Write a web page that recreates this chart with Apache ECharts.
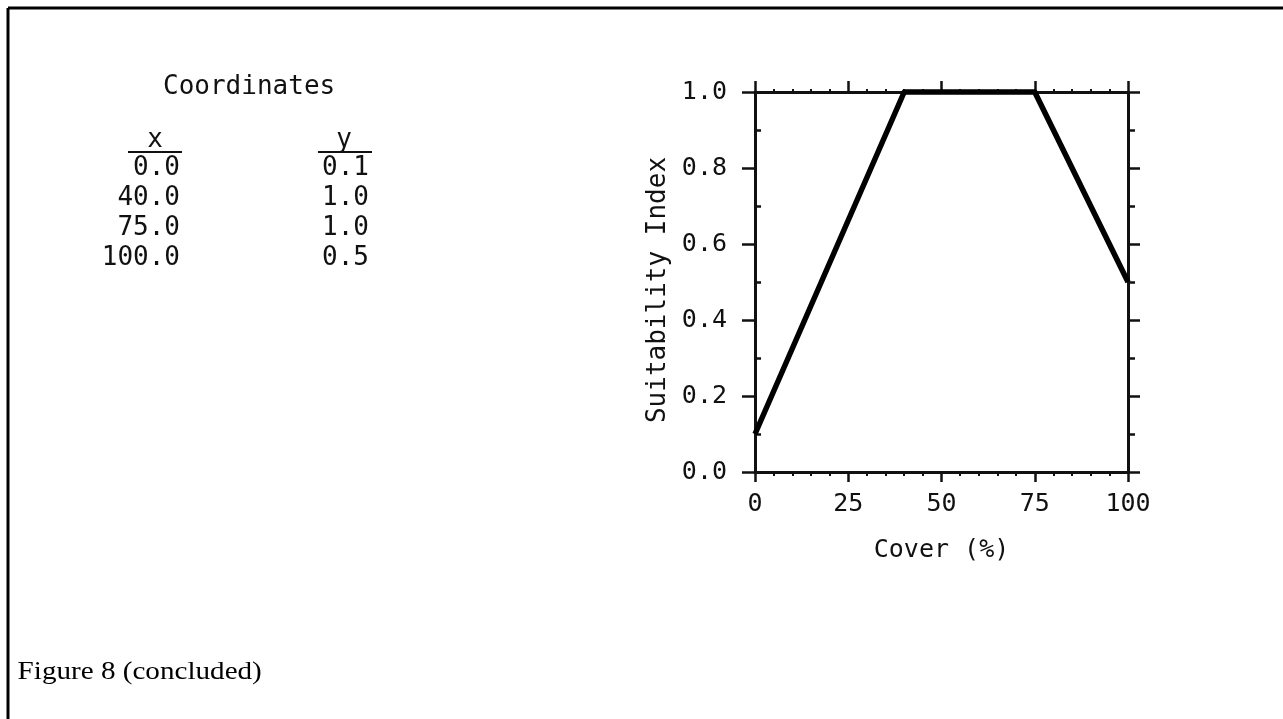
<!DOCTYPE html>
<html>
<head>
<meta charset="utf-8">
<script src="https://cdn.jsdelivr.net/npm/echarts@6/dist/echarts.min.js"></script>
<style>
    html, body { margin: 0; padding: 0; background: #fff; }
    #chart { width: 1283px; height: 719px; }
</style>
</head>
<body>
<div id="chart"></div>
<script>
// data
var coverValues = [0, 40, 75, 100];
var siValues = [0.1, 1.0, 1.0, 0.5];
var tableTitle = 'Coordinates';
var caption = 'Figure 8 (concluded)';
var xName = 'Cover (%)';
var yName = 'Suitability Index';

var mono = 'DejaVu Sans Mono';
var ink = '#111';

var points = coverValues.map(function (v, i) {
    return [v, siValues[i]];
});

// coordinates table, left side
var tableTexts = [{
    type: 'text',
    left: 163,
    top: 74,
    style: { text: tableTitle, font: '26px "' + mono + '"', fill: ink }
}, {
    type: 'text',
    x: 155, y: 140,
    style: { text: 'x', font: '26px "' + mono + '"', fill: ink, align: 'center', verticalAlign: 'middle' }
}, {
    type: 'text',
    x: 344, y: 140,
    style: { text: 'y', font: '26px "' + mono + '"', fill: ink, align: 'center', verticalAlign: 'middle' }
}, {
    type: 'line',
    shape: { x1: 128, y1: 152, x2: 182, y2: 152 },
    style: { stroke: ink, lineWidth: 2 }
}, {
    type: 'line',
    shape: { x1: 318, y1: 152, x2: 372, y2: 152 },
    style: { stroke: ink, lineWidth: 2 }
}];
coverValues.forEach(function (v, i) {
    tableTexts.push({
        type: 'text',
        x: 180, y: 168 + i * 30,
        style: { text: v.toFixed(1), font: '26px "' + mono + '"', fill: ink, align: 'right', verticalAlign: 'middle' }
    });
    tableTexts.push({
        type: 'text',
        x: 369, y: 168 + i * 30,
        style: { text: siValues[i].toFixed(1), font: '26px "' + mono + '"', fill: ink, align: 'right', verticalAlign: 'middle' }
    });
});

var myChart = echarts.init(document.getElementById('chart'));
var option = {
    animation: false,
    backgroundColor: '#fff',
    textStyle: {
        fontFamily: mono,
        color: ink
    },
    grid: {
        left: 755,
        top: 92,
        right: 155,
        bottom: 247
    },
    xAxis: [{
        type: 'value',
        position: 'bottom',
        min: 0,
        max: 100,
        interval: 25,
        name: xName,
        nameLocation: 'middle',
        nameGap: 66,
        nameTextStyle: { fontSize: 25, color: ink, fontFamily: mono },
        axisLine: { show: true, onZero: false, lineStyle: { color: ink, width: 3 } },
        axisTick: { show: true, length: 10, lineStyle: { color: ink, width: 2.5 } },
        minorTick: { show: true, splitNumber: 5, length: 4, lineStyle: { color: ink, width: 2 } },
        axisLabel: { fontSize: 25, color: ink, margin: 20, fontFamily: mono },
        splitLine: { show: false }
    }, {
        type: 'value',
        position: 'top',
        min: 0,
        max: 100,
        interval: 25,
        axisLine: { show: true, onZero: false, lineStyle: { color: ink, width: 3 } },
        axisTick: { show: true, length: 11, lineStyle: { color: ink, width: 2.5 } },
        minorTick: { show: true, splitNumber: 5, length: 3, lineStyle: { color: ink, width: 2 } },
        axisLabel: { show: false },
        splitLine: { show: false }
    }],
    yAxis: [{
        type: 'value',
        position: 'left',
        min: 0,
        max: 1,
        interval: 0.2,
        name: yName,
        nameLocation: 'middle',
        nameGap: 84,
        nameTextStyle: { fontSize: 26, color: ink, fontFamily: mono, padding: [0, 0, 0, -16] },
        axisLine: { show: true, onZero: false, lineStyle: { color: ink, width: 3 } },
        axisTick: { show: true, length: 13, lineStyle: { color: ink, width: 2.5 } },
        axisLabel: {
            fontSize: 25,
            color: ink,
            margin: 28,
            fontFamily: mono,
            formatter: function (v) { return v.toFixed(1); }
        },
        splitLine: { show: false }
    }, {
        // minor ticks pointing into the plot on the left side
        type: 'value',
        position: 'left',
        min: 0,
        max: 1,
        interval: 0.2,
        axisLine: { show: false },
        axisTick: { show: false, inside: true },
        minorTick: { show: true, splitNumber: 2, length: 6, lineStyle: { color: ink, width: 2.5 } },
        axisLabel: { show: false },
        splitLine: { show: false }
    }, {
        type: 'value',
        position: 'right',
        min: 0,
        max: 1,
        interval: 0.2,
        axisLine: { show: true, onZero: false, lineStyle: { color: ink, width: 3 } },
        axisTick: { show: true, length: 12, lineStyle: { color: ink, width: 2.5 } },
        minorTick: { show: true, splitNumber: 2, length: 7, lineStyle: { color: ink, width: 2.5 } },
        axisLabel: { show: false },
        splitLine: { show: false }
    }],
    series: [{
        name: yName,
        type: 'line',
        xAxisIndex: 0,
        yAxisIndex: 0,
        data: points,
        showSymbol: false,
        symbol: 'none',
        lineStyle: { color: '#000', width: 5.5, join: 'round' },
        clip: false
    }],
    graphic: tableTexts.concat([{
        type: 'line',
        shape: { x1: 8, y1: 8, x2: 1283, y2: 8 },
        style: { stroke: '#000', lineWidth: 3 }
    }, {
        type: 'line',
        shape: { x1: 8, y1: 8, x2: 8, y2: 719 },
        style: { stroke: '#000', lineWidth: 3 }
    }, {
        type: 'text',
        x: 20,
        y: 672,
        scaleX: 1.12,
        originX: 20,
        style: { text: caption, font: '26px "Liberation Serif"', fill: '#000', verticalAlign: 'middle' }
    }])
};
myChart.setOption(option);
</script>
</body>
</html>
